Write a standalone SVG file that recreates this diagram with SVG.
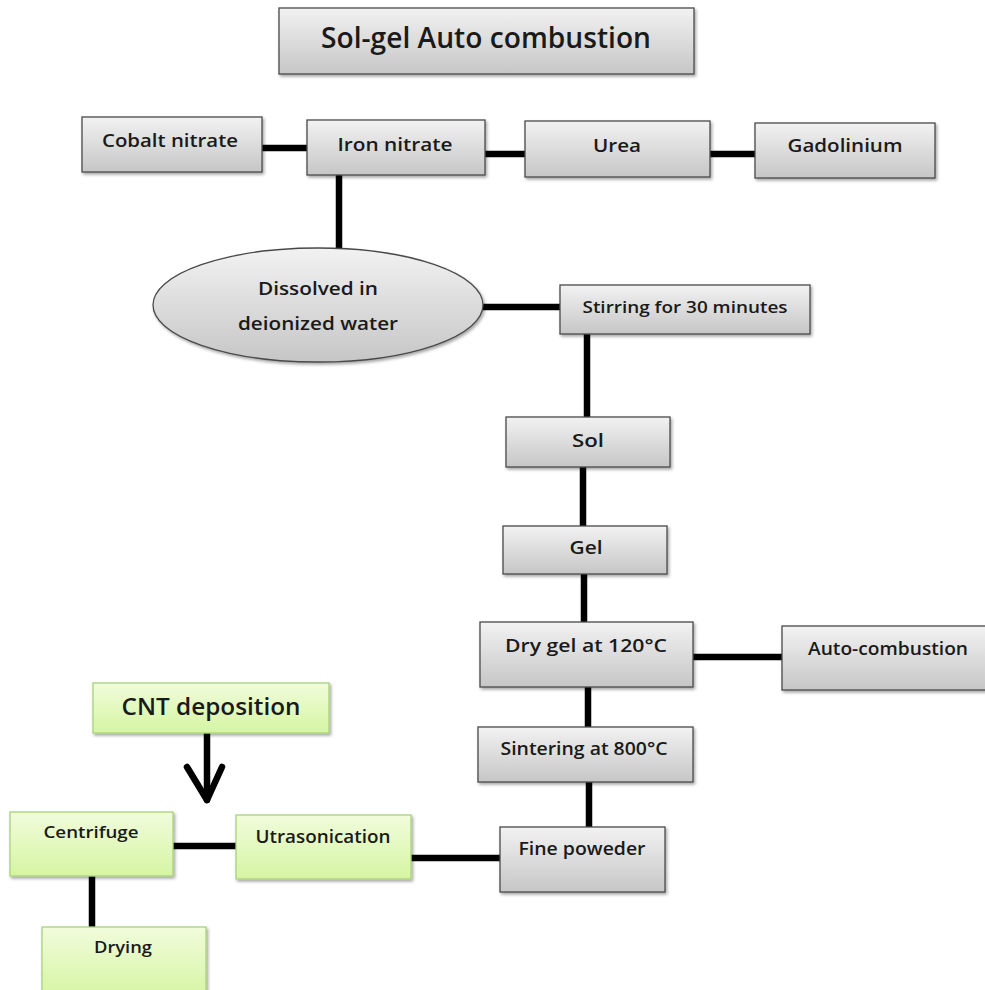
<svg xmlns="http://www.w3.org/2000/svg" width="985" height="990" viewBox="0 0 985 990">
<defs>
<linearGradient id="gGray" x1="0" y1="0" x2="0" y2="1">
<stop offset="0" stop-color="#f2f2f2"/>
<stop offset="1" stop-color="#c6c6c6"/>
</linearGradient>
<linearGradient id="gGreen" x1="0" y1="0" x2="0" y2="1">
<stop offset="0" stop-color="#f1fcdc"/>
<stop offset="1" stop-color="#d5f5a2"/>
</linearGradient>
<filter id="sh" x="-10%" y="-10%" width="125%" height="140%">
<feDropShadow dx="1.5" dy="2" stdDeviation="1.5" flood-color="#000" flood-opacity="0.35"/>
</filter>
<style>
.g{fill:url(#gGray);stroke:#4a4a4a;stroke-width:1.3;filter:url(#sh)}
.gr{fill:url(#gGreen);stroke:#a9d27a;stroke-width:1.3;filter:url(#sh)}
text{font-family:"Open Sans","Liberation Sans",sans-serif;font-weight:600;fill:#1a1a1a;font-size:18px}
.c{stroke:#000;stroke-width:6.5;stroke-linecap:round;fill:none}
</style>
</defs>
<rect width="985" height="990" fill="#fff"/>

<g id="connectors">
<line class="c" x1="262" y1="148" x2="307" y2="148"/>
<line class="c" x1="485" y1="154" x2="525" y2="154"/>
<line class="c" x1="707" y1="154" x2="756" y2="154"/>
<line class="c" x1="339" y1="176" x2="339" y2="248"/>
<line class="c" x1="483" y1="307" x2="560" y2="307"/>
<line class="c" x1="587" y1="334" x2="587" y2="417"/>
<line class="c" x1="583" y1="467" x2="583" y2="526"/>
<line class="c" x1="584" y1="574" x2="584" y2="622"/>
<line class="c" x1="693" y1="657" x2="782" y2="657"/>
<line class="c" x1="588" y1="687" x2="588" y2="727"/>
<line class="c" x1="589" y1="782" x2="589" y2="827"/>
<line class="c" x1="408" y1="858" x2="500" y2="858"/>
<line class="c" x1="165" y1="846" x2="238" y2="846"/>
<line class="c" x1="92" y1="876" x2="92" y2="927"/>
<line class="c" x1="207" y1="732" x2="207" y2="800"/>
<polyline class="c" points="187,767 207,800 222,767" stroke-linejoin="round"/>
</g>

<g id="title">
<rect class="g" x="279" y="8" width="415" height="66"/>
<text x="486" y="48" text-anchor="middle" textLength="330" lengthAdjust="spacingAndGlyphs" style="font-size:29px">Sol-gel Auto combustion</text>
</g>

<g id="cobalt">
<rect class="g" x="82" y="117" width="180" height="55"/>
<text x="170" y="147" text-anchor="middle" textLength="136" lengthAdjust="spacingAndGlyphs">Cobalt nitrate</text>
</g>

<g id="iron">
<rect class="g" x="307" y="120" width="178" height="55"/>
<text x="395" y="151" text-anchor="middle" textLength="115" lengthAdjust="spacingAndGlyphs">Iron nitrate</text>
</g>

<g id="urea">
<rect class="g" x="525" y="121" width="185" height="56"/>
<text x="617" y="152" text-anchor="middle" textLength="48" lengthAdjust="spacingAndGlyphs">Urea</text>
</g>

<g id="gadolinium">
<rect class="g" x="755" y="123" width="180" height="55"/>
<text x="845" y="152" text-anchor="middle" textLength="115" lengthAdjust="spacingAndGlyphs">Gadolinium</text>
</g>

<g id="dissolved">
<ellipse class="g" cx="318" cy="305" rx="165" ry="57"/>
<text x="318" y="295" text-anchor="middle" textLength="120" lengthAdjust="spacingAndGlyphs">Dissolved in</text>
<text x="318" y="330" text-anchor="middle" textLength="160" lengthAdjust="spacingAndGlyphs">deionized water</text>
</g>

<g id="stirring">
<rect class="g" x="560" y="285" width="250" height="49"/>
<text x="685" y="313" text-anchor="middle" textLength="205" lengthAdjust="spacingAndGlyphs" style="font-size:17px">Stirring for 30 minutes</text>
</g>

<g id="sol">
<rect class="g" x="506" y="417" width="164" height="50"/>
<text x="588" y="447" text-anchor="middle" textLength="32" lengthAdjust="spacingAndGlyphs">Sol</text>
</g>

<g id="gel">
<rect class="g" x="503" y="526" width="164" height="48"/>
<text x="586" y="554" text-anchor="middle" textLength="33" lengthAdjust="spacingAndGlyphs">Gel</text>
</g>

<g id="drygel">
<rect class="g" x="480" y="622" width="213" height="65"/>
<text x="586" y="652" text-anchor="middle" textLength="162" lengthAdjust="spacingAndGlyphs">Dry gel at 120°C</text>
</g>

<g id="autocombustion">
<rect class="g" x="782" y="626" width="210" height="64"/>
<text x="888" y="655" text-anchor="middle" textLength="160" lengthAdjust="spacingAndGlyphs">Auto-combustion</text>
</g>

<g id="sintering">
<rect class="g" x="478" y="727" width="215" height="55"/>
<text x="584" y="755" text-anchor="middle" textLength="167" lengthAdjust="spacingAndGlyphs">Sintering at 800°C</text>
</g>

<g id="finepowder">
<rect class="g" x="500" y="827" width="165" height="65"/>
<text x="582" y="855" text-anchor="middle" textLength="127" lengthAdjust="spacingAndGlyphs">Fine poweder</text>
</g>

<g id="cnt">
<rect class="gr" x="93" y="683" width="236" height="50"/>
<text x="211" y="715" text-anchor="middle" textLength="179" lengthAdjust="spacingAndGlyphs" style="font-size:23px">CNT deposition</text>
</g>

<g id="centrifuge">
<rect class="gr" x="10" y="812" width="163" height="64"/>
<text x="91" y="838" text-anchor="middle" textLength="95" lengthAdjust="spacingAndGlyphs" style="font-size:17px">Centrifuge</text>
</g>

<g id="utrasonication">
<rect class="gr" x="236" y="815" width="175" height="64"/>
<text x="323" y="843" text-anchor="middle" textLength="135" lengthAdjust="spacingAndGlyphs">Utrasonication</text>
</g>

<g id="drying">
<rect class="gr" x="42" y="927" width="164" height="70"/>
<text x="123" y="953" text-anchor="middle" textLength="58" lengthAdjust="spacingAndGlyphs" style="font-size:17px">Drying</text>
</g>
</svg>
